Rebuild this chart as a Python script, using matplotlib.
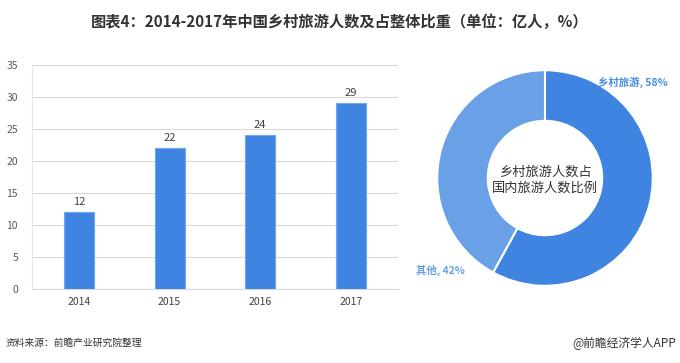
import matplotlib.pyplot as plt

plt.rcParams['font.family'] = ['Noto Sans CJK SC', 'DejaVu Sans']

years = ['2014', '2015', '2016', '2017']
visitors = [12, 22, 24, 29]
share_labels = ['乡村旅游', '其他']
share_values = [58, 42]

fig = plt.figure(figsize=(6.8, 3.63), dpi=100)

fig.text(0.5, 0.94, '图表4：2014-2017年中国乡村旅游人数及占整体比重（单位：亿人，%）',
         ha='center', va='center', fontsize=11, fontweight='bold', color='#333333')

# bar chart
ax = fig.add_axes([0.047, 0.204, 0.538, 0.617])
x = range(len(years))
bars = ax.bar(x, visitors, width=0.33, color='#3f84e0', edgecolor='#6aa8f0', linewidth=0.8, zorder=3)
for i, v in enumerate(visitors):
    ax.text(i, v + 0.8, str(v), ha='center', va='bottom', fontsize=8, color='#404040')
ax.set_xticks(list(x))
ax.set_xticklabels(years, fontsize=7.5, color='#404040')
ax.set_xlim(-0.52, 3.52)
ax.set_ylim(0, 35)
ax.set_yticks(range(0, 36, 5))
ax.tick_params(axis='y', labelsize=7.5, labelcolor='#595959', length=0, pad=10)
ax.tick_params(axis='x', length=0, pad=6)
ax.grid(axis='y', color='#d9d9d9', linewidth=0.8, zorder=0)
for s in ['top', 'right']:
    ax.spines[s].set_visible(False)
ax.spines['left'].set_color('#e6e6e6')
ax.spines['bottom'].set_color('#d9d9d9')

# donut
ax2 = fig.add_axes([0.6397, 0.2066, 0.3235, 0.606])
ax2.pie(share_values, colors=['#3f84e0', '#6aa1e6'], startangle=90, counterclock=False,
        radius=0.98, wedgeprops=dict(width=0.46, edgecolor='white', linewidth=1.5))
ax2.set_aspect('equal')
ax2.set_xlim(-1, 1)
ax2.set_ylim(-1, 1)
ax2.text(0, -0.02, '乡村旅游人数占\n国内旅游人数比例', ha='center', va='center',
         fontsize=9.5, color='#333333', linespacing=1.3)
ax2.text(0.48, 0.87, f'{share_labels[0]}, {share_values[0]}%', fontsize=7.5,
         color='#4a8fe0', fontweight='bold', ha='left', va='center')
ax2.text(-1.17, -0.84, f'{share_labels[1]}, {share_values[1]}%', fontsize=7.5,
         color='#6aa1e6', fontweight='bold', ha='left', va='center')

fig.text(0.008, 0.055, '资料来源：前瞻产业研究院整理', fontsize=7, style='italic',
         color='#333333', ha='left', va='center')
fig.text(0.995, 0.055, '@前瞻经济学人APP', fontsize=8.5, color='#333333', ha='right', va='center')

fig.savefig('out.png', dpi=100)
